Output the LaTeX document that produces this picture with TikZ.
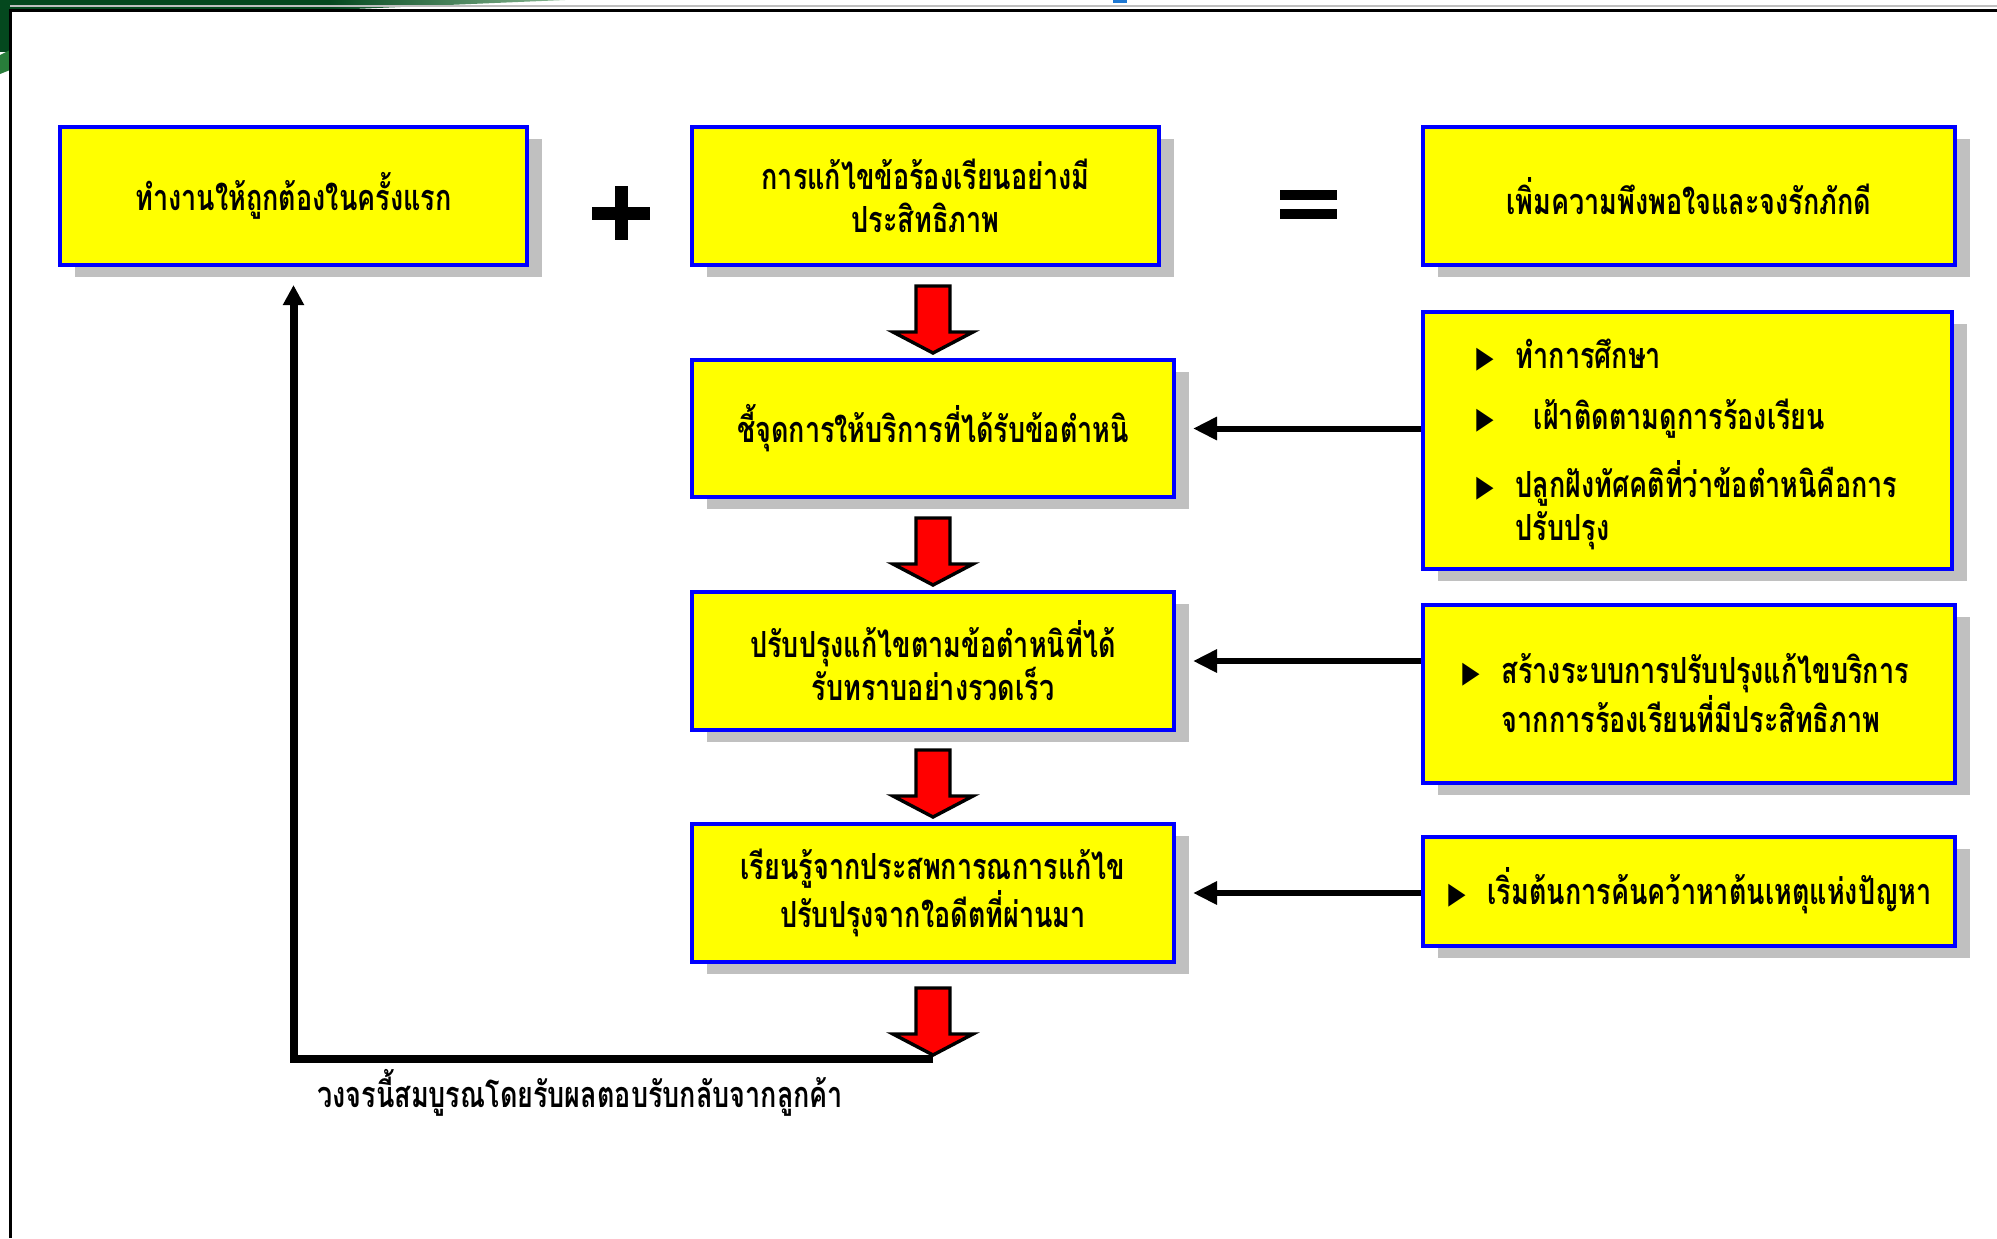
\documentclass[tikz,border=0pt]{standalone}
\usepackage{fontspec}
\usetikzlibrary{arrows.meta,calc,shadows}
\newfontfamily\thai[Script=Thai,FakeStretch=0.75]{Loma}
\newfontfamily\symfont{DejaVu Sans}
\definecolor{boxyellow}{RGB}{255,255,0}
\definecolor{boxblue}{RGB}{0,0,255}
\definecolor{shadowgray}{RGB}{192,192,192}
\definecolor{arrowred}{RGB}{255,0,0}
\definecolor{bannerdark}{RGB}{4,72,30}
\definecolor{bannerlight}{RGB}{40,125,58}
\definecolor{tabblue}{RGB}{30,120,210}
\newcommand{\bul}{\raisebox{0.5pt}{\scalebox{0.75}[1]{\symfont\fontsize{15}{15}\selectfont ▶}}}
\begin{document}
\begin{tikzpicture}[x=0.5pt,y=-0.5pt,
  thaitext/.style={font={\thai\bfseries\fontsize{18}{21.5}\selectfont}},
  box/.style={thaitext, draw=boxblue, line width=2pt, fill=boxyellow,
    inner sep=0pt, align=center,
    drop shadow={shadow xshift=7.5pt, shadow yshift=-6pt, fill=shadowgray, opacity=1}},
  sidearrow/.style={line width=3pt, -{Triangle[length=12pt,width=11pt]}},
  loopline/.style={line width=4pt, line join=miter, -{Triangle[length=10pt,width=10pt]}},
  downarrow/.pic={
    \filldraw[fill=arrowred, draw=black, line width=1.7pt, line join=miter]
      (-17,-67) -- (17,-67) -- (17,-21) -- (40,-21) -- (0,0)
      -- (-40,-21) -- (-17,-21) -- cycle;
  }]
\useasboundingbox (0,0) rectangle (1997,1238);

% corner banner and page frame
\fill[bannerdark] (0,0) -- (330,0) -- (330,10) -- (0,10) -- cycle;
\shade[left color=bannerdark, right color=bannerlight!55!white]
  (330,0) -- (565,0) -- (330,10) -- cycle;
\fill[bannerdark] (0,10) rectangle (10,52);
\fill[bannerlight] (0,55) -- (10,50) -- (10,70) -- (0,74) -- cycle;
\fill[tabblue] (1113,0) rectangle (1127,3);
\draw[gray!50, line width=1pt] (10,6) -- (1997,6);
\draw[line width=1.5pt] (10,1238) -- (10,10) -- (1997,10);

% top row: the equation
\node[box, minimum width=233.5pt, minimum height=69pt] (b1) at (293.5,196)
  {ทำงานให้ถูกต้องในครั้งแรก};
\node[box, minimum width=233.5pt, minimum height=69pt] (b2) at (925.5,196)
  {การแก้ไขข้อร้องเรียนอย่างมี\\ประสิทธิภาพ};
\node[box, minimum width=266pt, minimum height=69pt] (b3) at (1689,196)
  {เพิ่มความพึงพอใจและจงรักภักดี};

% plus and equals signs
\fill (592,206.5) rectangle (650,219.5);
\fill (614.5,186) rectangle (627.5,240);
\fill (1280,190) rectangle (1337,200);
\fill (1280,209) rectangle (1337,219);

% process steps
\node[box, minimum width=241pt, minimum height=68.5pt] (b4) at (933,428.5)
  {ชี้จุดการให้บริการที่ได้รับข้อตำหนิ};
\node[box, minimum width=241pt, minimum height=69pt] (b5) at (933,661)
  {ปรับปรุงแก้ไขตามข้อตำหนิที่ได้\\รับทราบอย่างรวดเร็ว};
\node[box, minimum width=241pt, minimum height=69pt] (b6) at (933,893)
  {เรียนรู้จากประสพการณการแก้ไข\\ปรับปรุงจากใอดีตที่ผ่านมา};

% supporting actions
\node[box, minimum width=264.5pt, minimum height=128.5pt] (r1) at (1687.5,440.5) {};
\node[box, minimum width=266pt, minimum height=89pt] (r2) at (1689,694) {};
\node[box, minimum width=266pt, minimum height=54.5pt] (r3) at (1689,891.5) {};

\node[thaitext, anchor=base west, inner sep=0pt] (r1t) at (1476,368)
  {\begin{tabular}[t]{@{}l@{\hspace{11pt}}l@{}}
   \bul & ทำการศึกษา\\[9pt]
   \bul & \ \ เฝ้าติดตามดูการร้องเรียน\\[9pt]
   \bul & ปลูกฝังทัศคติที่ว่าข้อตำหนิคือการ\\
        & ปรับปรุง
   \end{tabular}};
\node[thaitext, anchor=base west, inner sep=0pt] (r2t) at (1462,683)
  {\begin{tabular}[t]{@{}l@{\hspace{11pt}}l@{}}
   \bul & สร้างระบบการปรับปรุงแก้ไขบริการ\\
        & จากการร้องเรียนที่มีประสิทธิภาพ
   \end{tabular}};
\node[thaitext, anchor=base west, inner sep=0pt] (r3t) at (1448,904)
  {\begin{tabular}[t]{@{}l@{\hspace{11pt}}l@{}}
   \bul & เริ่มต้นการค้นคว้าหาต้นเหตุแห่งปัญหา
   \end{tabular}};

% flow arrows between steps
\pic at ($(b4.north)+(0,-5)$) {downarrow};
\pic at ($(b5.north)+(0,-5)$) {downarrow};
\pic at ($(b6.north)+(0,-5)$) {downarrow};
\coordinate (fbcorner) at ($(b6.south)+(0,95)$);
\pic at ($(fbcorner)+(0,-4)$) {downarrow};

% inputs from the supporting actions
\draw[sidearrow] (r1.west |- b4.east) -- ($(b4.east)+(17,0)$);
\draw[sidearrow] (r2.west |- b5.east) -- ($(b5.east)+(17,0)$);
\draw[sidearrow] (r3.west |- b6.east) -- ($(b6.east)+(17,0)$);

% feedback loop
\draw[loopline] (fbcorner) -| ($(b1.south)+(0,18)$);
\node[thaitext, anchor=west, inner sep=0pt] (caption) at (317,1093)
  {วงจรนี้สมบูรณโดยรับผลตอบรับกลับจากลูกค้า};
\end{tikzpicture}
\end{document}
